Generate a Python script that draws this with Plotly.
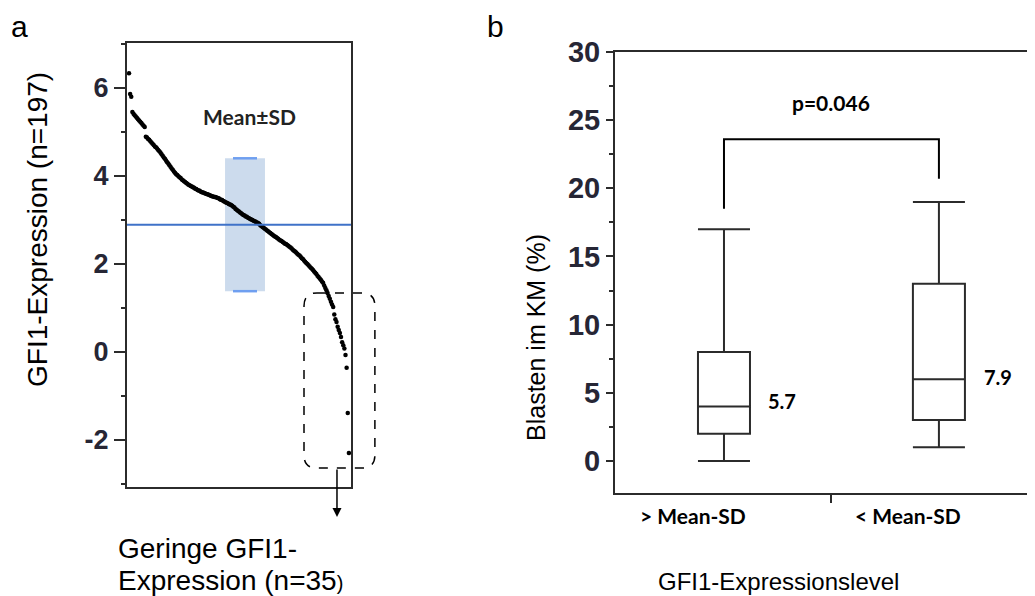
import plotly.graph_objects as go

# ---------------- data ----------------
# Panel a: sorted GFI1 expression values (n=197)
gfi1_expression = [
    6.33, 5.86, 5.80, 5.45,
    5.41, 5.38, 5.35, 5.32, 5.29, 5.26, 5.23, 5.20, 5.17, 5.14, 5.11,
    4.89, 4.87, 4.84, 4.82, 4.79, 4.76, 4.73, 4.70, 4.67, 4.65, 4.62, 4.59,
    4.56, 4.53, 4.49, 4.46, 4.42, 4.39, 4.35, 4.31, 4.28, 4.24, 4.21, 4.17, 4.14, 4.10, 4.07,
    4.04, 4.02, 3.99, 3.97, 3.95, 3.92, 3.90, 3.88, 3.86, 3.84, 3.82, 3.80,
    3.79, 3.77, 3.76, 3.74, 3.73, 3.71, 3.70, 3.68, 3.67, 3.66, 3.64,
    3.63, 3.62, 3.61, 3.60, 3.59, 3.58, 3.57, 3.56, 3.55, 3.54, 3.53, 3.52, 3.52, 3.51, 3.50,
    3.49, 3.47, 3.46, 3.45, 3.43, 3.42, 3.40, 3.39, 3.38, 3.36, 3.35, 3.34,
    3.32, 3.30, 3.28, 3.25, 3.23, 3.21, 3.19, 3.17, 3.15, 3.13, 3.11,
    3.10, 3.08, 3.07, 3.05, 3.04, 3.02, 3.01, 3.00, 2.98, 2.97, 2.96, 2.94, 2.93,
    2.91, 2.88, 2.86, 2.84, 2.82, 2.80, 2.78, 2.76, 2.74, 2.72, 2.70,
    2.68, 2.66, 2.64, 2.62, 2.61, 2.59, 2.57, 2.55, 2.53, 2.52, 2.50, 2.48, 2.46, 2.45, 2.43,
    2.41, 2.39, 2.37, 2.35, 2.32, 2.30, 2.28, 2.26, 2.23, 2.21, 2.19, 2.16,
    2.13, 2.11, 2.08, 2.05, 2.02, 2.00, 1.97, 1.94, 1.91, 1.89, 1.86,
    1.83, 1.80, 1.77, 1.73, 1.70, 1.67, 1.64, 1.60, 1.57,
    1.51, 1.45, 1.40, 1.34,
    1.27, 1.21, 1.14, 1.08, 1.02,
    0.85, 0.74, 0.68, 0.57, 0.50, 0.43, 0.34, 0.22, 0.15, 0.08, -0.07, -0.36, -1.39, -2.30,
]
sample_index = list(range(len(gfi1_expression)))
expr_mean = 2.89
expr_sd_low = 1.38
expr_sd_high = 4.40
a_yticks = [-2, 0, 2, 4, 6]

# Panel b: box statistics
groups = ["> Mean-SD", "< Mean-SD"]
group_pos = [0, 1]
q1 = [2, 3]
median = [4, 6]
q3 = [8, 13]
lower_whisker = [0, 1]
upper_whisker = [17, 19]
group_means = ["5.7", "7.9"]
p_value_text = "p=0.046"
b_yticks = [0, 5, 10, 15, 20, 25, 30]

# ---------------- layout geometry ----------------
# page has an 8px body margin (top/left); figure fills the rest of the window
OFF = 8
W, H = 1035 - OFF, 596 - OFF


def px(xp):
    return (xp - OFF) / W


def py(yp):
    return 1 - (yp - OFF) / H


A_RANGE_X = [-1.8, 197.9]
A_RANGE_Y = [-3.07, 7.02]
B_RANGE_X = [-0.507, 1.447]
B_RANGE_Y = [-2.35, 30]
A_DOM_X = [px(127), px(351)]
A_DOM_Y = [py(487), py(43)]
B_DOM_X = [px(615), 1.0]
B_DOM_Y = [py(493), py(52)]


def to_paper(v, rng, dom):
    return dom[0] + (v - rng[0]) / (rng[1] - rng[0]) * (dom[1] - dom[0])


AXC = "#2b2b2b"
ARIAL = "Liberation Sans, Arial"

fig = go.Figure()

# mean +- SD band (below points)
fig.add_shape(type="rect", xref="x", yref="y", x0=85.6, x1=121.2,
              y0=expr_sd_low, y1=expr_sd_high,
              fillcolor="rgba(170,195,225,0.6)", line_width=0, layer="below")
for v in (expr_sd_low, expr_sd_high):
    fig.add_shape(type="line", xref="x", yref="y", x0=92.7, x1=114.1, y0=v, y1=v,
                  line=dict(color="#6f9ff0", width=2.5))
fig.add_shape(type="line", xref="x", yref="y", x0=A_RANGE_X[0], x1=A_RANGE_X[1],
              y0=expr_mean, y1=expr_mean, line=dict(color="#3f72c8", width=2))

fig.add_trace(go.Scatter(
    x=sample_index, y=gfi1_expression, mode="markers",
    marker=dict(color="black", size=4.5), xaxis="x", yaxis="y",
    showlegend=False, hoverinfo="skip"))

# panel b boxes
for i in range(2):
    fig.add_trace(go.Box(
        x=[group_pos[i]], q1=[q1[i]], median=[median[i]], q3=[q3[i]],
        lowerfence=[lower_whisker[i]], upperfence=[upper_whisker[i]],
        xaxis="x2", yaxis="y2", width=0.242, whiskerwidth=1,
        fillcolor="white", line=dict(color="#2b2b2b", width=2),
        boxpoints=False, showlegend=False, hoverinfo="skip"))

# significance bracket
br_top = 23.6
fig.add_shape(type="path", xref="x2", yref="y2",
              path=f"M {group_pos[0]},18.5 L {group_pos[0]},{br_top} L {group_pos[1]},{br_top} L {group_pos[1]},20.7",
              line=dict(color="black", width=2))

# dashed rounded box around low expressers (data-space bounds -> paper)
bx0 = to_paper(156.0, A_RANGE_X, A_DOM_X)
bx1 = to_paper(219.2, A_RANGE_X, A_DOM_X)
by0 = to_paper(-2.64, A_RANGE_Y, A_DOM_Y)
by1 = to_paper(1.34, A_RANGE_Y, A_DOM_Y)
rx, ry = 13 / W, 13 / H
path = (f"M {bx0+rx},{by1} L {bx1-rx},{by1} Q {bx1},{by1} {bx1},{by1-ry} "
        f"L {bx1},{by0+ry} Q {bx1},{by0} {bx1-rx},{by0} "
        f"L {bx0+rx},{by0} Q {bx0},{by0} {bx0},{by0+ry} "
        f"L {bx0},{by1-ry} Q {bx0},{by1} {bx0+rx},{by1} Z")
fig.add_shape(type="path", xref="paper", yref="paper", path=path,
              line=dict(color="black", width=1.5, dash="dash"))

annotations = []
# arrow down from dashed box
arrow_x = to_paper(185.4, A_RANGE_X, A_DOM_X)
annotations.append(dict(xref="paper", yref="paper", x=arrow_x, y=by0 - 49 / H,
                        ax=0, ay=-49, text="", showarrow=True, arrowhead=2,
                        arrowsize=1.2, arrowwidth=1.5, arrowcolor="black"))
annotations.append(dict(xref="paper", yref="paper", x=px(116), y=py(548),
                        xanchor="left", yanchor="middle", showarrow=False,
                        text="Geringe GFI1-",
                        font=dict(family=ARIAL, size=28, color="black")))
annotations.append(dict(xref="paper", yref="paper", x=px(116), y=py(580),
                        xanchor="left", yanchor="middle", showarrow=False,
                        text="Expression (n=35<span style='font-size:20px'>)</span>",
                        font=dict(family=ARIAL, size=28, color="black")))
# panel letters
annotations.append(dict(xref="paper", yref="paper", x=px(9), y=py(26), xanchor="left",
                        yanchor="middle", text="a", showarrow=False,
                        font=dict(family=ARIAL, size=30, color="black")))
annotations.append(dict(xref="paper", yref="paper", x=px(485), y=py(27), xanchor="left",
                        yanchor="middle", text="b", showarrow=False,
                        font=dict(family=ARIAL, size=30, color="black")))
# axis titles
annotations.append(dict(xref="paper", yref="paper", x=px(38), y=py(230), textangle=-90,
                        text="GFI1-Expression (n=197)", showarrow=False,
                        xanchor="center", yanchor="middle",
                        font=dict(family=ARIAL, size=28, color="black")))
annotations.append(dict(xref="paper", yref="paper", x=px(536), y=py(338), textangle=-90,
                        text="Blasten im KM (%)", showarrow=False,
                        xanchor="center", yanchor="middle",
                        font=dict(family=ARIAL, size=25, color="black")))
annotations.append(dict(xref="paper", yref="paper", x=px(778), y=py(581),
                        text="GFI1-Expressionslevel", showarrow=False,
                        xanchor="center", yanchor="middle",
                        font=dict(family=ARIAL, size=24, color="black")))
# Mean±SD label
annotations.append(dict(xref="x", yref="y", x=107, y=5.35, text="<b>Mean±SD</b>", showarrow=False,
                        xanchor="center", yanchor="middle",
                        font=dict(family="Lato", size=21, color="#222")))
# group labels, means, p-value
for i in range(2):
    annotations.append(dict(xref="x2", yref="paper", x=group_pos[i] - 0.145, y=py(515),
                            text=f"<b>{groups[i]}</b>", showarrow=False,
                            xanchor="center", yanchor="middle",
                            font=dict(family="Lato", size=21, color="black")))
annotations.append(dict(xref="x2", yref="y2", x=0.27, y=4.4, text=f"<b>{group_means[0]}</b>",
                        showarrow=False, font=dict(family="Lato", size=20, color="black")))
annotations.append(dict(xref="x2", yref="y2", x=1.274, y=6.15, text=f"<b>{group_means[1]}</b>",
                        showarrow=False, font=dict(family="Lato", size=20, color="black")))
annotations.append(dict(xref="x2", yref="y2", x=0.5, y=26.3, text=f"<b>{p_value_text}</b>",
                        showarrow=False, font=dict(family="Lato", size=21, color="black")))

fig.update_layout(
    width=W, height=H, margin=dict(l=0, r=0, t=0, b=0, autoexpand=False),
    paper_bgcolor="white", plot_bgcolor="white",
    annotations=annotations,
    xaxis=dict(domain=A_DOM_X, range=A_RANGE_X, showgrid=False, zeroline=False,
               showticklabels=False, ticks="", showline=True, mirror=True,
               linecolor=AXC, linewidth=2, anchor="y", automargin=False),
    yaxis=dict(domain=A_DOM_Y, range=A_RANGE_Y, showgrid=False, zeroline=False,
               tickvals=a_yticks, ticktext=[f"<b>{t}</b>" for t in a_yticks],
               ticks="outside", ticklen=11, tickwidth=2, tickcolor=AXC,
               minor=dict(dtick=1, tick0=1, ticks="outside", ticklen=4, tickwidth=2,
                          tickcolor=AXC, showgrid=False),
               showline=True, mirror=True, linecolor=AXC, linewidth=2,
               tickfont=dict(family=ARIAL, size=27, color="#262635"), anchor="x",
               automargin=False),
    xaxis2=dict(domain=B_DOM_X, range=B_RANGE_X, showgrid=False, zeroline=False,
                tickvals=[0.5], ticktext=[""], ticks="outside", ticklen=8, tickwidth=2,
                tickcolor=AXC, showline=True, mirror=True, linecolor=AXC, linewidth=2,
                anchor="y2", automargin=False),
    yaxis2=dict(domain=B_DOM_Y, range=B_RANGE_Y, showgrid=False, zeroline=False,
                tickvals=b_yticks, ticktext=[f"<b>{t}</b>" for t in b_yticks],
                ticks="outside", ticklen=7, tickwidth=2, tickcolor=AXC,
                minor=dict(dtick=2.5, tick0=2.5, ticks="outside", ticklen=4, tickwidth=2,
                           tickcolor=AXC, showgrid=False),
                showline=True, linecolor=AXC, linewidth=2,
                tickfont=dict(family=ARIAL, size=29, color="#262635"), anchor="x2",
                automargin=False),
)

fig.write_html("out.html")
